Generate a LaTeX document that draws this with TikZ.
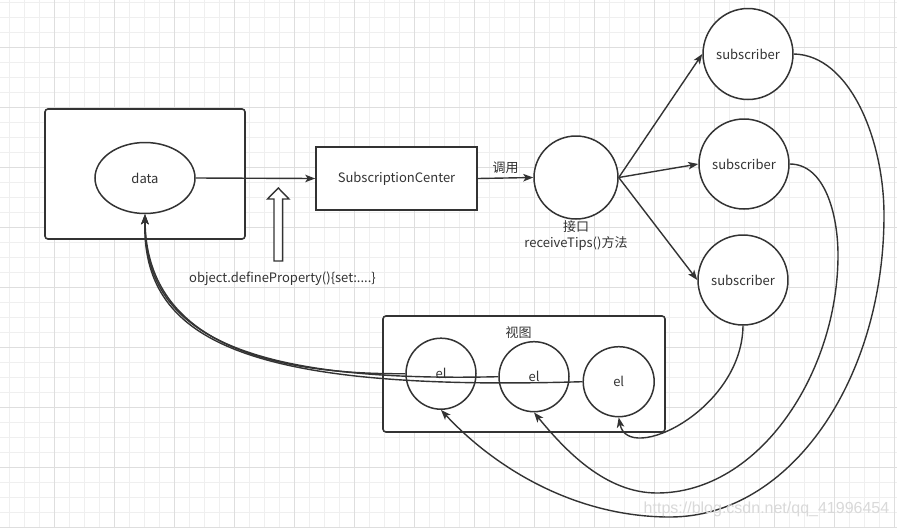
\documentclass[tikz,border=0pt]{standalone}
\usepackage{fontspec}
\setmainfont{Noto Sans CJK SC}
\newfontfamily\wmfont{Liberation Sans}
\usetikzlibrary{shapes.geometric,arrows.meta}
\definecolor{dk}{RGB}{51,51,51}
\definecolor{tx}{RGB}{51,51,51}
\definecolor{gminor}{RGB}{239,239,239}
\definecolor{gmajor}{RGB}{222,222,222}
\tikzset{
  ln/.style={draw=dk, line width=1.4pt},
  arr/.style={ln, -{Stealth[length=10pt,width=7.5pt,inset=2.5pt]}},
  rbox/.style={draw=dk, line width=1.6pt, fill=white, rounded corners=3pt, inner sep=0pt},
  sqbox/.style={draw=dk, line width=1.6pt, fill=white, inner sep=0pt, text=tx},
  oval/.style={ellipse, draw=dk, line width=1.5pt, fill=white, inner sep=0pt, text=tx},
  lbl/.style={text=tx, inner sep=0pt},
}
\begin{document}
\begin{tikzpicture}[x=1pt,y=-1pt,every node/.style={font=\fontsize{13pt}{15pt}\selectfont}]
\useasboundingbox[fill=white] (0,0) rectangle (897,528);
% grid
\foreach \gx in {9.3,24.3,...,897} \draw[gminor, line width=0.9pt] (\gx,0) -- (\gx,528);
\foreach \gy in {2.3,17.3,...,528} \draw[gminor, line width=0.9pt] (0,\gy) -- (897,\gy);
\foreach \gx in {54.3,114.3,...,897} \draw[gmajor, line width=0.9pt] (\gx,0) -- (\gx,528);
\foreach \gy in {47.3,107.3,...,528} \draw[gmajor, line width=0.9pt] (0,\gy) -- (897,\gy);

% data box
\node[rbox, minimum width=200pt, minimum height=130pt] (databox) at (145,174) {};
\node[oval, minimum width=100pt, minimum height=71pt] (data) at (145,178) {data};

% subscription center
\node[sqbox, minimum width=161pt, minimum height=63pt] (sc) at (396.5,178.5) {SubscriptionCenter};

% interface circle
\node[oval, minimum width=84pt, minimum height=83pt] (iface) at (576,177.5) {};
\node[lbl] (jiekou) at (576,227) {接口};
\node[lbl] (recv) at (576,243.5) {receiveTips()方法};

% subscribers
\node[oval, minimum width=89pt, minimum height=91pt] (s1) at (748,54) {subscriber};
\node[oval, minimum width=88pt, minimum height=90pt] (s2) at (744,164) {subscriber};
\node[oval, minimum width=86pt, minimum height=90pt] (s3) at (743,280) {subscriber};

% view box
\node[rbox, minimum width=282pt, minimum height=116pt] (view) at (524,374) {};
\node[lbl] (viewlbl) at (518.5,332.5) {视图};
\node[oval, minimum width=70pt, minimum height=71pt] (el1) at (441,373.7) {el};
\node[oval, minimum width=70pt, minimum height=70pt] (el2) at (534,376.7) {el};
\node[oval, minimum width=71pt, minimum height=70pt] (el3) at (618.7,381.7) {el};

% hollow arrow
\draw[ln, fill=white] (274,261) -- (274,199) -- (267.5,199) -- (278.3,188) -- (289,199) -- (282.6,199) -- (282.6,261) -- cycle;
\node[lbl] (defprop) at (282.5,279) {object.defineProperty()\{set:....\}};

% connectors
\draw[arr] (data.east) -- (sc.west);
\draw[arr] (sc.east) -- node[lbl, above=4pt] (call) {调用} (iface.west);
\draw[arr] (iface.east) -- (s1.west);
\draw[arr] (iface.east) -- (s2.west);
\draw[arr] (iface.east) -- (s3.west);

% el -> data
\draw[arr] (el1.west) .. controls (232,375) and (146,322) .. (data.south);
\draw[arr] (el2.west) .. controls (236,383) and (144,330) .. (data.south);
\draw[arr] (el3.west) .. controls (240,392) and (142,338) .. (data.south);

% subscribers -> el
\draw[arr] (s3.south) .. controls (742,410) and (628,465) .. (el3.south);
\draw[arr] (s2.east) .. controls (825,164) and (838,215) .. (838,255)
  .. controls (838,372) and (760,493) .. (657,493)
  .. controls (605,493) and (565,450) .. (el2.south);
\draw[arr] (s1.east) .. controls (850,55) and (884,140) .. (884,215)
  .. controls (884,380) and (790,517) .. (670,517)
  .. controls (575,517) and (495,468) .. (el1.south);

% watermark
\node[text=black!15, font=\wmfont\fontsize{16pt}{18pt}\selectfont, inner sep=0pt] (wm) at (766.5,509) {https://blog.csdn.net/qq\_41996454};
\end{tikzpicture}
\end{document}
